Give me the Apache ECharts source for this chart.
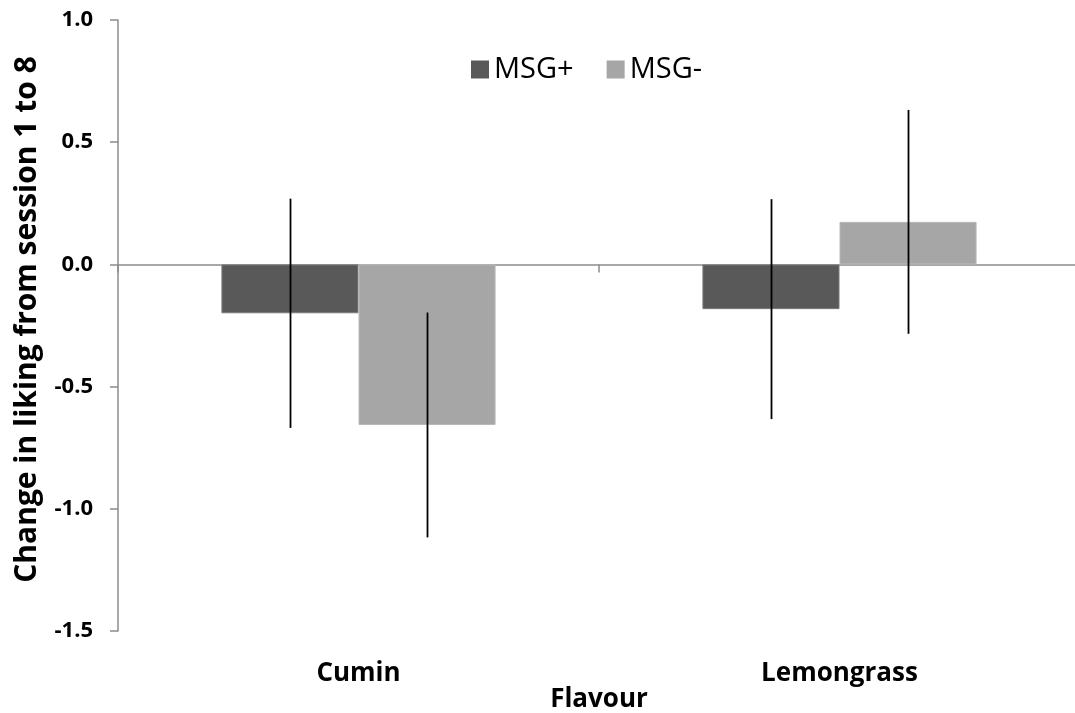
<!DOCTYPE html>
<html>
<head>
<meta charset="utf-8">
<script src="https://cdn.jsdelivr.net/npm/echarts@6/dist/echarts.min.js"></script>
<style>
html,body{margin:0;padding:0;background:#fff;}
#chart{width:1075px;height:713px;}
</style>
</head>
<body>
<div id="chart"></div>
<script>
const categories = ['Cumin', 'Lemongrass'];
const seriesNames = ['MSG+', 'MSG-'];
const msgPlus = [-0.20, -0.183];
const msgMinus = [-0.657, 0.174];
const errPlus = [0.469, 0.45];
const errMinus = [0.46, 0.458];
const yTicks = { min: -1.5, max: 1.0, interval: 0.5 };
const yTitle = 'Change in liking from session 1 to 8';
const xTitle = 'Flavour';

const FONT = 'Open Sans';
const BAR_FRAC = 0.285;

function errData(vals, errs) {
  return vals.map((v, i) => [i, v - errs[i], v + errs[i]]);
}

function errRender(side) {
  return function (params, api) {
    const cat = api.value(0);
    const band = api.size([1, 0])[0];
    const off = side * band * BAR_FRAC / 2;
    const p1 = api.coord([cat, api.value(1)]);
    const p2 = api.coord([cat, api.value(2)]);
    const x = Math.round(p1[0] + off) + 0.5;
    return {
      type: 'line',
      shape: { x1: x, y1: p1[1], x2: x, y2: p2[1] },
      style: { stroke: '#000', lineWidth: 1.8 }
    };
  };
}

const chart = echarts.init(document.getElementById('chart'));
chart.setOption({
  animation: false,
  backgroundColor: '#fff',
  textStyle: { fontFamily: FONT },
  legend: {
    data: seriesNames,
    left: 466,
    top: 50,
    itemWidth: 18,
    itemHeight: 18,
    itemGap: 33,
    icon: 'rect',
    itemStyle: { borderWidth: 0 },
    textStyle: { fontFamily: FONT, fontSize: 29, color: '#000' }
  },
  grid: { left: 118, right: -5, top: 20, bottom: 82, containLabel: false, outerBoundsMode: 'none' },
  xAxis: [
    {
      type: 'category',
      data: categories,
      position: 'bottom',
      axisLine: { show: false, onZero: false },
      axisTick: { show: false },
      axisLabel: { fontFamily: FONT, fontWeight: 'bold', fontSize: 26, color: '#000', margin: 30 },
      name: xTitle,
      nameLocation: 'middle',
      nameGap: 56,
      nameMoveOverlap: false,
      nameTextStyle: { fontFamily: FONT, fontWeight: 'bold', fontSize: 26, color: '#000' }
    },
    {
      type: 'category',
      data: categories,
      position: 'top',
      axisLine: { show: true, onZero: true, lineStyle: { color: '#8c8c8c', width: 1.5 } },
      axisTick: { show: true, inside: true, length: 8, lineStyle: { color: '#8c8c8c', width: 1.5 } },
      axisLabel: { show: false },
      splitLine: { show: false }
    }
  ],
  yAxis: {
    type: 'value',
    min: yTicks.min,
    max: yTicks.max,
    interval: yTicks.interval,
    axisLine: { show: true, onZero: false, lineStyle: { color: '#8c8c8c', width: 1.5 } },
    axisTick: { show: true, length: 8, lineStyle: { color: '#8c8c8c', width: 1.5 } },
    splitLine: { show: false },
    axisLabel: {
      fontFamily: FONT, fontWeight: 'bold', fontSize: 22, color: '#000', margin: 25,
      formatter: v => v.toFixed(1)
    },
    name: yTitle,
    nameLocation: 'middle',
    nameGap: 76,
    nameMoveOverlap: false,
    nameTextStyle: { fontFamily: FONT, fontWeight: 'bold', fontSize: 30, color: '#000', padding: [0, 0, 0, 12] }
  },
  series: [
    {
      name: seriesNames[0], type: 'bar', data: msgPlus, xAxisIndex: 0,
      barWidth: (BAR_FRAC * 100) + '%', barGap: '0%',
      itemStyle: { color: '#595959', borderColor: '#7a7a7a', borderWidth: 1 }
    },
    {
      name: seriesNames[1], type: 'bar', data: msgMinus, xAxisIndex: 0,
      barWidth: (BAR_FRAC * 100) + '%', barGap: '0%',
      itemStyle: { color: '#a6a6a6', borderColor: '#b8b8b8', borderWidth: 1 }
    },
    {
      type: 'custom', xAxisIndex: 0, data: errData(msgPlus, errPlus),
      renderItem: errRender(-1), encode: { x: 0, y: [1, 2] }, z: 5, silent: true
    },
    {
      type: 'custom', xAxisIndex: 0, data: errData(msgMinus, errMinus),
      renderItem: errRender(1), encode: { x: 0, y: [1, 2] }, z: 5, silent: true
    }
  ]
});
</script>
</body>
</html>
